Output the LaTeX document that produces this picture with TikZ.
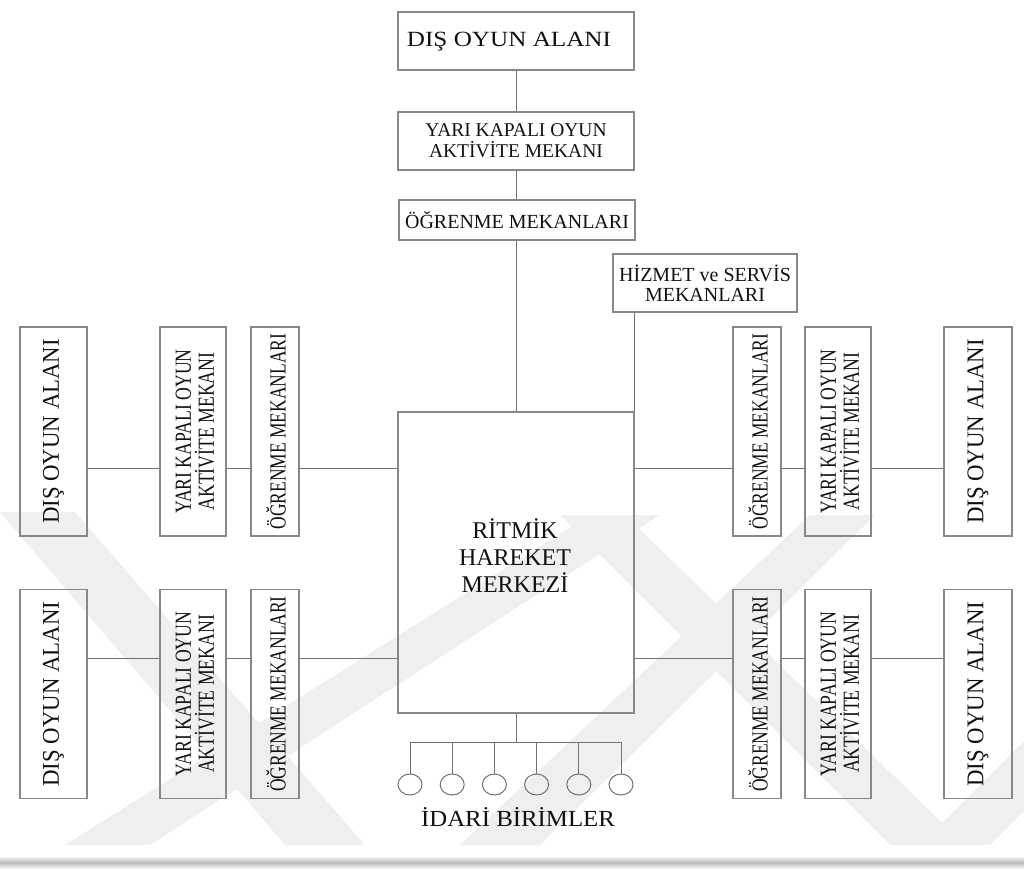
\documentclass[tikz,border=0pt]{standalone}
\usepackage{fontspec}
\setmainfont{Liberation Serif}
\usetikzlibrary{shapes.geometric}
\definecolor{boxc}{HTML}{888888}
\definecolor{linec}{HTML}{707070}
\definecolor{txt}{HTML}{111111}
\definecolor{wm}{HTML}{EFEFEF}
\newcommand{\myfs}[2]{\fontsize{#1}{#2}\selectfont}
\tikzset{
  hbox/.style={draw=boxc, line width=1.3pt, inner sep=0pt, text=txt, align=center},
  vbox/.style={draw=boxc, line width=1.3pt, inner sep=0pt, minimum height=209pt},
  vtxt/.style={rotate=90, inner sep=0pt, text=txt, align=center},
  conn/.style={draw=linec, line width=1pt},
  unit/.style={ellipse, draw=linec, line width=1pt, minimum width=24pt, minimum height=21pt, inner sep=0pt}
}
\begin{document}
\begin{tikzpicture}[x=1pt,y=-1pt]
\useasboundingbox (0,0) rectangle (1024,870);
% faint watermark
\fill[wm] (0,512) -- (75,512) -- (365,845) -- (285,845) -- cycle;
\fill[wm] (65,845) -- (150,845) -- (660,515) -- (590,515) -- cycle;
\fill[wm] (460,845) -- (540,845) -- (875,515) -- (810,515) -- cycle;
\fill[wm] (560,515) -- (625,515) -- (965,845) -- (890,845) -- cycle;
\fill[wm] (920,845) -- (990,845) -- (1024,811) -- (1024,741) -- cycle;
% bottom shadow
\shade[top color=white, bottom color=white, middle color=gray!55] (0,856) rectangle (1024,869);

% top column
\node[hbox, minimum width=236pt, minimum height=58pt] (tD) at (516,41) {};
\node[text=txt, inner sep=0pt, font=\myfs{21.7}{22}] (tDt) at (509,42) {\scalebox{1.16}[1]{DIŞ OYUN ALANI}};
\node[hbox, minimum width=236pt, minimum height=58pt, font=\myfs{19.5}{21}] (tY) at (516,141) {YARI KAPALI OYUN\\ AKTİVİTE MEKANI};
\node[hbox, minimum width=236pt, minimum height=40pt, font=\myfs{20}{20}] (tO) at (517,220) {ÖĞRENME MEKANLARI};
\node[hbox, minimum width=184pt, minimum height=58pt, font=\myfs{20}{20}] (hz) at (705,283) {HİZMET ve SERVİS\\MEKANLARI};

% centre
\node[hbox, minimum width=236pt, minimum height=301pt] (rc) at (516,562.5) {};
\node[text=txt, align=center, font=\myfs{24}{27}] (rct) at (515,556) {RİTMİK\\HAREKET\\MERKEZİ};

\draw[conn] (tD.south) -- (tY.north);
\draw[conn] (tY.south) -- (tY.south |- tO.north);
\draw[conn] (rc.north |- tO.south) -- (rc.north);
\draw[conn] (rc.north east |- hz.south) -- (rc.north east);

% side rows
\foreach \r/\cy/\ly in {1/431.5/468, 2/694/658} {
  \coordinate (rl\r) at (0,\ly);
  \node[vbox, minimum width=67pt] (Ld\r) at (53.5,\cy) {};
  \node[vtxt, font=\myfs{24}{24}] (Ld\r t) at (53.5,\cy) {\scalebox{0.95}[1]{DIŞ OYUN ALANI}};
  \node[vbox, minimum width=66pt] (Ly\r) at (193,\cy) {};
  \node[vtxt, font=\myfs{23}{23}] (Ly\r t) at (195,\cy) {\scalebox{0.77}[1]{YARI KAPALI OYUN}\\\scalebox{0.77}[1]{AKTİVİTE MEKANI}};
  \node[vbox, minimum width=48pt] (Lo\r) at (275,\cy) {};
  \node[vtxt, font=\myfs{23}{23}] (Lo\r t) at (276,\cy) {\scalebox{0.76}[1]{ÖĞRENME MEKANLARI}};

  \node[vbox, minimum width=48pt] (Ro\r) at (757,\cy) {};
  \node[vtxt, font=\myfs{23}{23}] (Ro\r t) at (758,\cy) {\scalebox{0.76}[1]{ÖĞRENME MEKANLARI}};
  \node[vbox, minimum width=66pt] (Ry\r) at (838,\cy) {};
  \node[vtxt, font=\myfs{23}{23}] (Ry\r t) at (840,\cy) {\scalebox{0.77}[1]{YARI KAPALI OYUN}\\\scalebox{0.77}[1]{AKTİVİTE MEKANI}};
  \node[vbox, minimum width=68pt] (Rd\r) at (978,\cy) {};
  \node[vtxt, font=\myfs{24}{24}] (Rd\r t) at (978,\cy) {\scalebox{0.95}[1]{DIŞ OYUN ALANI}};

  \draw[conn] (Ld\r.east |- rl\r) -- (Ly\r.west |- rl\r);
  \draw[conn] (Ly\r.east |- rl\r) -- (Lo\r.west |- rl\r);
  \draw[conn] (Lo\r.east |- rl\r) -- (rc.west |- rl\r);
  \draw[conn] (rc.east |- rl\r) -- (Ro\r.west |- rl\r);
  \draw[conn] (Ro\r.east |- rl\r) -- (Ry\r.west |- rl\r);
  \draw[conn] (Ry\r.east |- rl\r) -- (Rd\r.west |- rl\r);
}

% administrative units
\coordinate (bj) at (516,742);
\foreach \i in {1,...,6} {
  \node[unit] (u\i) at ({410+42.2*(\i-1)},784.5) {};
  \draw[conn] (u\i.north |- bj) -- (u\i.north);
}
\draw[conn] (rc.south) -- (rc.south |- bj);
\draw[conn] (u1.north |- bj) -- (u6.north |- bj);
\node[text=txt, font=\myfs{23}{23}] (idari) at (518,817.5) {\scalebox{1.08}[1]{İDARİ BİRİMLER}};
\end{tikzpicture}
\end{document}
